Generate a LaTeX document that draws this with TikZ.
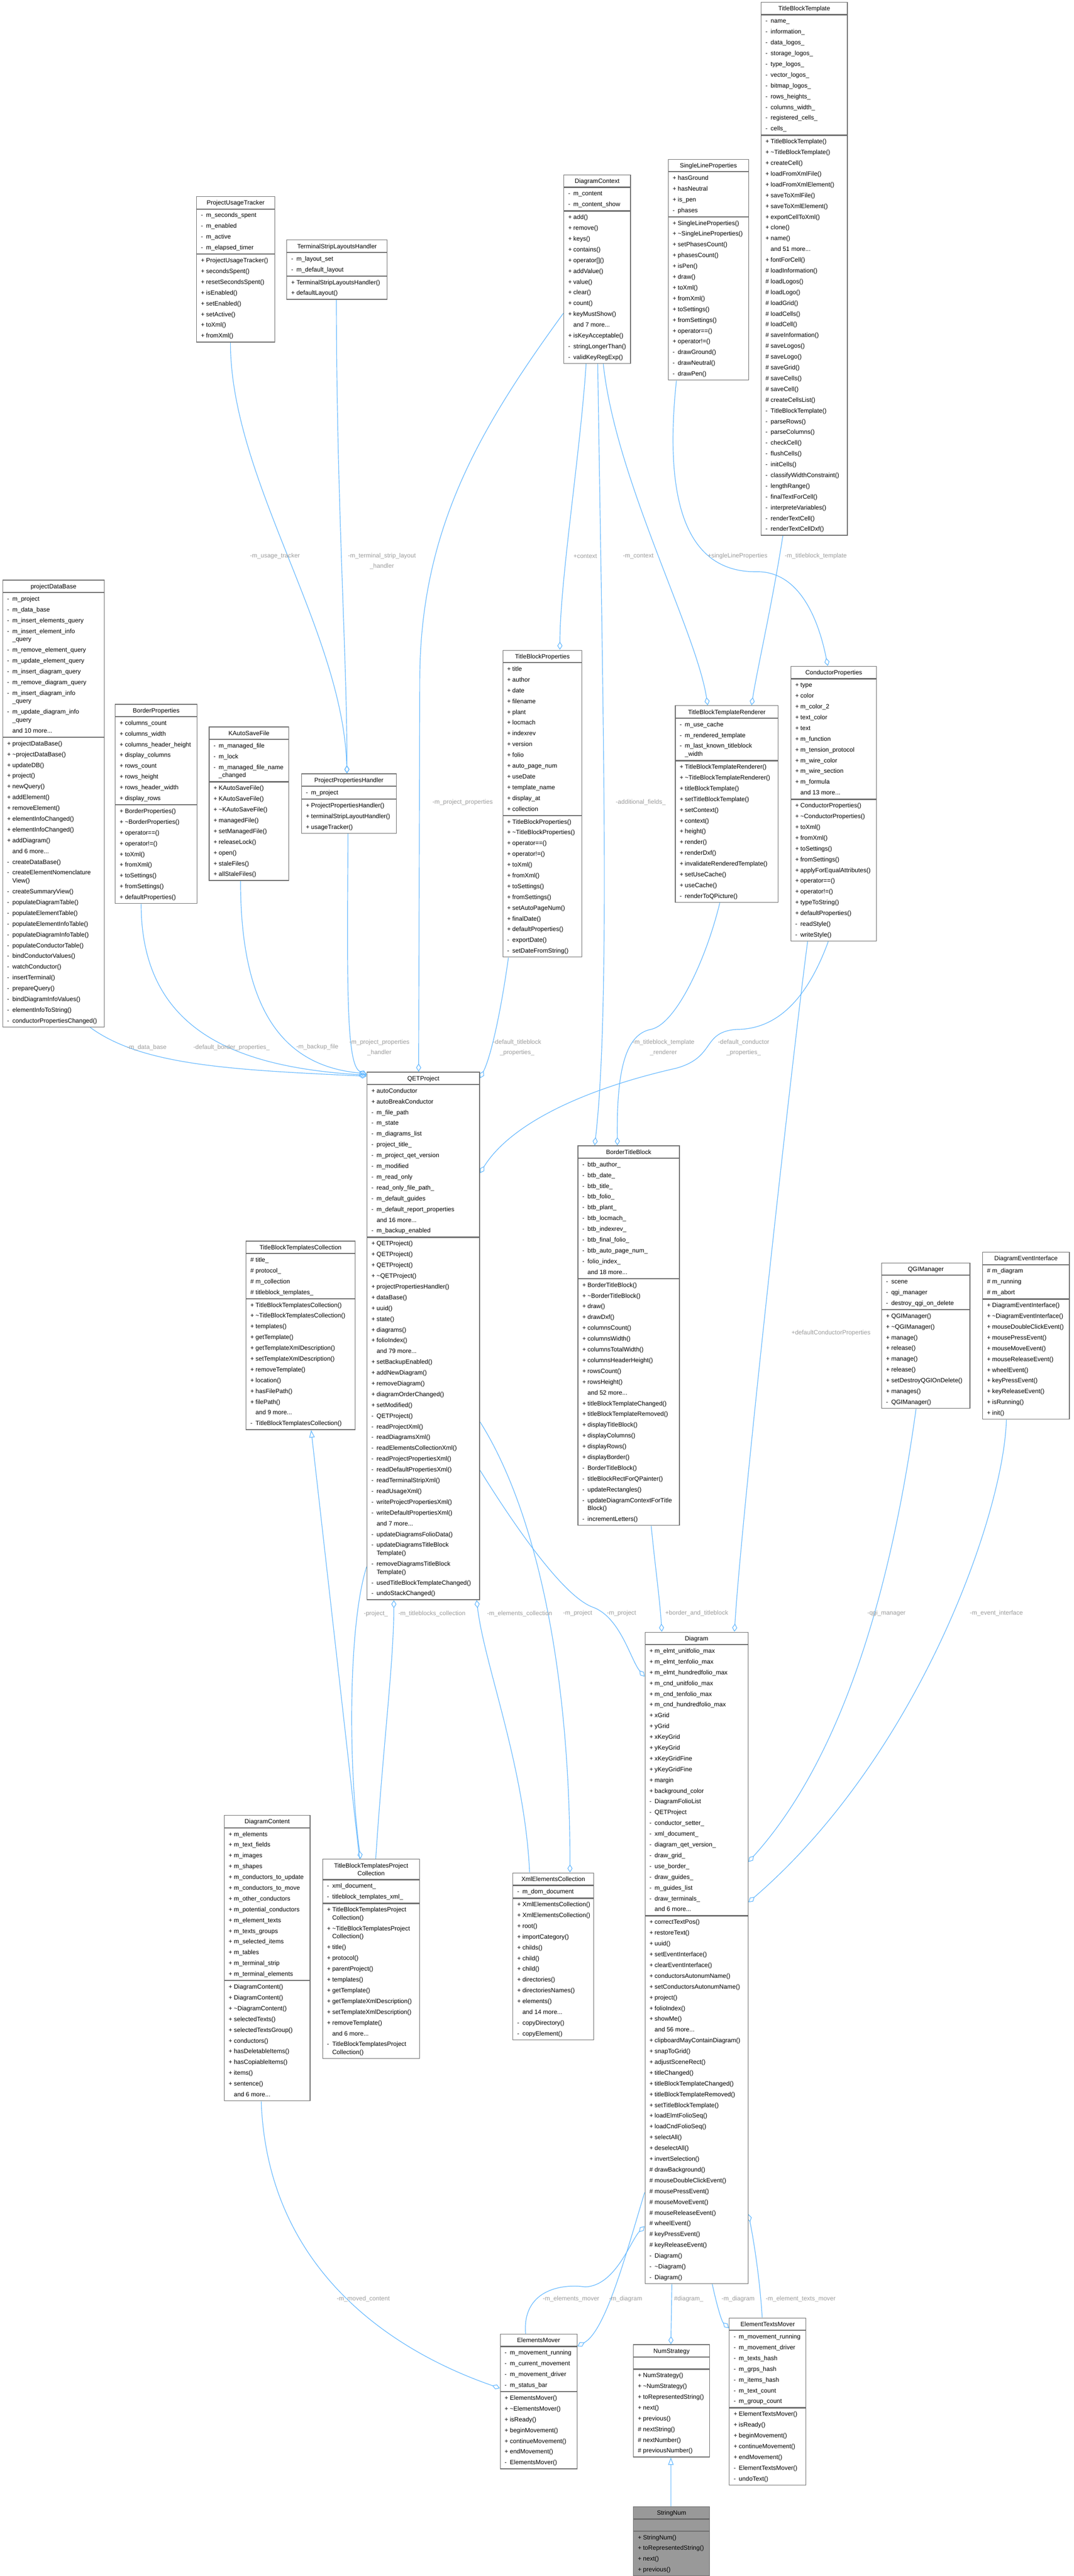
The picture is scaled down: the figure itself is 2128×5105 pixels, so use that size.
\documentclass[tikz,border=0pt]{standalone}
\usepackage{fontspec}
\setmainfont{Liberation Sans}
\usetikzlibrary{arrows.meta,fit,backgrounds}
\definecolor{edgecol}{HTML}{63B8FF}
\definecolor{bordercol}{HTML}{6E6E6E}
\definecolor{lblcol}{HTML}{9C9C9C}
\definecolor{rootfill}{HTML}{999999}
\newlength\pxu \setlength\pxu{0.75pt}
\newcommand\rowstrut{\rule[-5.1pt]{0pt}{16pt}}
\newcommand\tstrut{\rule[-5.6pt]{0pt}{18pt}}
\newcommand\xs[1]{\rowstrut\kern6.5pt\makebox[7.75pt][l]{#1}}
\newcommand\xP{\xs{+}}
\newcommand\xM{\xs{-}}
\newcommand\xH{\xs{\#}}
\newcommand\xN{\xs{}}
\newcommand\cont{\\[-4pt]\xN}
\newcommand\emptysec{\rule{0pt}{14.7pt}}
\newcommand\tld{\textasciitilde}
\tikzset{
 sec/.style={draw=bordercol, line width=0.9pt, inner xsep=0pt, inner ysep=1.1pt, anchor=north west, font=\fontsize{9.2pt}{16pt}\selectfont},
 lbl/.style={text=lblcol, font=\fontsize{9.2pt}{15.75pt}\selectfont, align=center, inner sep=0pt},
 edge/.style={draw=edgecol, line width=0.9pt},
 agg/.style={edge, -{Diamond[open,length=12pt,width=7.5pt]}},
 inh/.style={edge, -{Triangle[open,length=11pt,width=8pt]}},
}
\newcommand\umlbox[8][white]{%
 \node[sec, fill=#1, inner ysep=0pt] (#2-t) at (#3,#4) {\parbox{#5\pxu}{\centering\tstrut #6}};
 \node[sec, fill=#1] (#2-a) at (#2-t.south west) {\parbox{#5\pxu}{\raggedright #7}};
 \node[sec, fill=#1] (#2-m) at (#2-a.south west) {\parbox{#5\pxu}{\raggedright #8}};
 \node[fit=(#2-t)(#2-m), inner sep=0pt] (#2) {};
}
\begin{document}
\catcode`\_=12
\hyphenpenalty=10000 \exhyphenpenalty=10000
\begin{tikzpicture}[x=0.75pt,y=-0.75pt]
\useasboundingbox (0,0) rectangle (2128,5105);

% ---------------- boxes ----------------
\umlbox{TBT}{1508}{4}{171}{TitleBlockTemplate}
{\xM name_ \\ \xM information_ \\ \xM data_logos_ \\ \xM storage_logos_ \\ \xM type_logos_ \\ \xM vector_logos_ \\ \xM bitmap_logos_ \\ \xM rows_heights_ \\ \xM columns_width_ \\ \xM registered_cells_ \\ \xM cells_}
{\xP TitleBlockTemplate() \\ \xP \tld TitleBlockTemplate() \\ \xP createCell() \\ \xP loadFromXmlFile() \\ \xP loadFromXmlElement() \\ \xP saveToXmlFile() \\ \xP saveToXmlElement() \\ \xP exportCellToXml() \\ \xP clone() \\ \xP name() \\ \xN and 51 more... \\ \xP fontForCell() \\ \xH loadInformation() \\ \xH loadLogos() \\ \xH loadLogo() \\ \xH loadGrid() \\ \xH loadCells() \\ \xH loadCell() \\ \xH saveInformation() \\ \xH saveLogos() \\ \xH saveLogo() \\ \xH saveGrid() \\ \xH saveCells() \\ \xH saveCell() \\ \xH createCellsList() \\ \xM TitleBlockTemplate() \\ \xM parseRows() \\ \xM parseColumns() \\ \xM checkCell() \\ \xM flushCells() \\ \xM initCells() \\ \xM classifyWidthConstraint() \\ \xM lengthRange() \\ \xM finalTextForCell() \\ \xM interpreteVariables() \\ \xM renderTextCell() \\ \xM renderTextCellDxf()}

\umlbox{DC}{1117}{346}{132}{DiagramContext}
{\xM m_content \\ \xM m_content_show}
{\xP add() \\ \xP remove() \\ \xP keys() \\ \xP contains() \\ \xP operator[]() \\ \xP addValue() \\ \xP value() \\ \xP clear() \\ \xP count() \\ \xP keyMustShow() \\ \xN and 7 more... \\ \xP isKeyAcceptable() \\ \xM stringLongerThan() \\ \xM validKeyRegExp()}

\umlbox{SLP}{1324}{315}{159}{SingleLineProperties}
{\xP hasGround \\ \xP hasNeutral \\ \xP is_pen \\ \xM phases}
{\xP SingleLineProperties() \\ \xP \tld SingleLineProperties() \\ \xP setPhasesCount() \\ \xP phasesCount() \\ \xP isPen() \\ \xP draw() \\ \xP toXml() \\ \xP fromXml() \\ \xP toSettings() \\ \xP fromSettings() \\ \xP operator==() \\ \xP operator!=() \\ \xM drawGround() \\ \xM drawNeutral() \\ \xM drawPen()}

\umlbox{PUT}{389}{389}{155}{ProjectUsageTracker}
{\xM m_seconds_spent \\ \xM m_enabled \\ \xM m_active \\ \xM m_elapsed_timer}
{\xP ProjectUsageTracker() \\ \xP secondsSpent() \\ \xP resetSecondsSpent() \\ \xP isEnabled() \\ \xP setEnabled() \\ \xP setActive() \\ \xP toXml() \\ \xP fromXml()}

\umlbox{TSLH}{568}{475}{199}{TerminalStripLayoutsHandler}
{\xM m_layout_set \\ \xM m_default_layout}
{\xP TerminalStripLayoutsHandler() \\ \xP defaultLayout()}

\umlbox{PDB}{5}{1149}{201}{projectDataBase}
{\xM m_project \\ \xM m_data_base \\ \xM m_insert_elements_query \\ \xM m_insert_element_info\cont _query \\ \xM m_remove_element_query \\ \xM m_update_element_query \\ \xM m_insert_diagram_query \\ \xM m_remove_diagram_query \\ \xM m_insert_diagram_info\cont _query \\ \xM m_update_diagram_info\cont _query \\ \xN and 10 more...}
{\xP projectDataBase() \\ \xP \tld projectDataBase() \\ \xP updateDB() \\ \xP project() \\ \xP newQuery() \\ \xP addElement() \\ \xP removeElement() \\ \xP elementInfoChanged() \\ \xP elementInfoChanged() \\ \xP addDiagram() \\ \xN and 6 more... \\ \xM createDataBase() \\ \xM createElementNomenclature\cont View() \\ \xM createSummaryView() \\ \xM populateDiagramTable() \\ \xM populateElementTable() \\ \xM populateElementInfoTable() \\ \xM populateDiagramInfoTable() \\ \xM populateConductorTable() \\ \xM bindConductorValues() \\ \xM watchConductor() \\ \xM insertTerminal() \\ \xM prepareQuery() \\ \xM bindDiagramInfoValues() \\ \xM elementInfoToString() \\ \xM conductorPropertiesChanged()}

\umlbox{BP}{228}{1395}{162}{BorderProperties}
{\xP columns_count \\ \xP columns_width \\ \xP columns_header_height \\ \xP display_columns \\ \xP rows_count \\ \xP rows_height \\ \xP rows_header_width \\ \xP display_rows}
{\xP BorderProperties() \\ \xP \tld BorderProperties() \\ \xP operator==() \\ \xP operator!=() \\ \xP toXml() \\ \xP fromXml() \\ \xP toSettings() \\ \xP fromSettings() \\ \xP defaultProperties()}

\umlbox{KASF}{414}{1440}{158}{KAutoSaveFile}
{\xM m_managed_file \\ \xM m_lock \\ \xM m_managed_file_name\cont _changed}
{\xP KAutoSaveFile() \\ \xP KAutoSaveFile() \\ \xP \tld KAutoSaveFile() \\ \xP managedFile() \\ \xP setManagedFile() \\ \xP releaseLock() \\ \xP open() \\ \xP staleFiles() \\ \xP allStaleFiles()}

\umlbox{PPH}{597}{1533}{188}{ProjectPropertiesHandler}
{\xM m_project}
{\xP ProjectPropertiesHandler() \\ \xP terminalStripLayoutHandler() \\ \xP usageTracker()}

\umlbox{TBP}{996}{1288}{157}{TitleBlockProperties}
{\xP title \\ \xP author \\ \xP date \\ \xP filename \\ \xP plant \\ \xP locmach \\ \xP indexrev \\ \xP version \\ \xP folio \\ \xP auto_page_num \\ \xP useDate \\ \xP template_name \\ \xP display_at \\ \xP collection}
{\xP TitleBlockProperties() \\ \xP \tld TitleBlockProperties() \\ \xP operator==() \\ \xP operator!=() \\ \xP toXml() \\ \xP fromXml() \\ \xP toSettings() \\ \xP fromSettings() \\ \xP setAutoPageNum() \\ \xP finalDate() \\ \xP defaultProperties() \\ \xM exportDate() \\ \xM setDateFromString()}

\umlbox{TBTR}{1338}{1398}{204}{TitleBlockTemplateRenderer}
{\xM m_use_cache \\ \xM m_rendered_template \\ \xM m_last_known_titleblock\cont _width}
{\xP TitleBlockTemplateRenderer() \\ \xP \tld TitleBlockTemplateRenderer() \\ \xP titleBlockTemplate() \\ \xP setTitleBlockTemplate() \\ \xP setContext() \\ \xP context() \\ \xP height() \\ \xP render() \\ \xP renderDxf() \\ \xP invalidateRenderedTemplate() \\ \xP setUseCache() \\ \xP useCache() \\ \xM renderToQPicture()}

\umlbox{CP}{1567}{1320}{170}{ConductorProperties}
{\xP type \\ \xP color \\ \xP m_color_2 \\ \xP text_color \\ \xP text \\ \xP m_function \\ \xP m_tension_protocol \\ \xP m_wire_color \\ \xP m_wire_section \\ \xP m_formula \\ \xN and 13 more...}
{\xP ConductorProperties() \\ \xP \tld ConductorProperties() \\ \xP toXml() \\ \xP fromXml() \\ \xP toSettings() \\ \xP fromSettings() \\ \xP applyForEqualAttributes() \\ \xP operator==() \\ \xP operator!=() \\ \xP typeToString() \\ \xP defaultProperties() \\ \xM readStyle() \\ \xM writeStyle()}

\umlbox{QET}{727}{2124}{223}{QETProject}
{\xP autoConductor \\ \xP autoBreakConductor \\ \xM m_file_path \\ \xM m_state \\ \xM m_diagrams_list \\ \xM project_title_ \\ \xM m_project_qet_version \\ \xM m_modified \\ \xM m_read_only \\ \xM read_only_file_path_ \\ \xM m_default_guides \\ \xM m_default_report_properties \\ \xN and 16 more... \\ \xM m_backup_enabled}
{\xP QETProject() \\ \xP QETProject() \\ \xP QETProject() \\ \xP \tld QETProject() \\ \xP projectPropertiesHandler() \\ \xP dataBase() \\ \xP uuid() \\ \xP state() \\ \xP diagrams() \\ \xP folioIndex() \\ \xN and 79 more... \\ \xP setBackupEnabled() \\ \xP addNewDiagram() \\ \xP removeDiagram() \\ \xP diagramOrderChanged() \\ \xP setModified() \\ \xM QETProject() \\ \xM readProjectXml() \\ \xM readDiagramsXml() \\ \xM readElementsCollectionXml() \\ \xM readProjectPropertiesXml() \\ \xM readDefaultPropertiesXml() \\ \xM readTerminalStripXml() \\ \xM readUsageXml() \\ \xM writeProjectPropertiesXml() \\ \xM writeDefaultPropertiesXml() \\ \xN and 7 more... \\ \xM updateDiagramsFolioData() \\ \xM updateDiagramsTitleBlock\cont Template() \\ \xM removeDiagramsTitleBlock\cont Template() \\ \xM usedTitleBlockTemplateChanged() \\ \xM undoStackChanged()}

\umlbox{BTB}{1145}{2270}{201}{BorderTitleBlock}
{\xM btb_author_ \\ \xM btb_date_ \\ \xM btb_title_ \\ \xM btb_folio_ \\ \xM btb_plant_ \\ \xM btb_locmach_ \\ \xM btb_indexrev_ \\ \xM btb_final_folio_ \\ \xM btb_auto_page_num_ \\ \xM folio_index_ \\ \xN and 18 more...}
{\xP BorderTitleBlock() \\ \xP \tld BorderTitleBlock() \\ \xP draw() \\ \xP drawDxf() \\ \xP columnsCount() \\ \xP columnsWidth() \\ \xP columnsTotalWidth() \\ \xP columnsHeaderHeight() \\ \xP rowsCount() \\ \xP rowsHeight() \\ \xN and 52 more... \\ \xP titleBlockTemplateChanged() \\ \xP titleBlockTemplateRemoved() \\ \xP displayTitleBlock() \\ \xP displayColumns() \\ \xP displayRows() \\ \xP displayBorder() \\ \xM BorderTitleBlock() \\ \xM titleBlockRectForQPainter() \\ \xM updateRectangles() \\ \xM updateDiagramContextForTitle\cont Block() \\ \xM incrementLetters()}

\umlbox{TBTC}{487}{2459}{216}{TitleBlockTemplatesCollection}
{\xH title_ \\ \xH protocol_ \\ \xH m_collection \\ \xH titleblock_templates_}
{\xP TitleBlockTemplatesCollection() \\ \xP \tld TitleBlockTemplatesCollection() \\ \xP templates() \\ \xP getTemplate() \\ \xP getTemplateXmlDescription() \\ \xP setTemplateXmlDescription() \\ \xP removeTemplate() \\ \xP location() \\ \xP hasFilePath() \\ \xP filePath() \\ \xN and 9 more... \\ \xM TitleBlockTemplatesCollection()}

\umlbox{QGI}{1747}{2502}{175}{QGIManager}
{\xM scene \\ \xM qgi_manager \\ \xM destroy_qgi_on_delete}
{\xP QGIManager() \\ \xP \tld QGIManager() \\ \xP manage() \\ \xP release() \\ \xP manage() \\ \xP release() \\ \xP setDestroyQGIOnDelete() \\ \xP manages() \\ \xM QGIManager()}

\umlbox{DEI}{1947}{2481}{172}{DiagramEventInterface}
{\xH m_diagram \\ \xH m_running \\ \xH m_abort}
{\xP DiagramEventInterface() \\ \xP \tld DiagramEventInterface() \\ \xP mouseDoubleClickEvent() \\ \xP mousePressEvent() \\ \xP mouseMoveEvent() \\ \xP mouseReleaseEvent() \\ \xP wheelEvent() \\ \xP keyPressEvent() \\ \xP keyReleaseEvent() \\ \xP isRunning() \\ \xP init()}

\umlbox{DIA}{1278}{3234}{204}{Diagram}
{\xP m_elmt_unitfolio_max \\ \xP m_elmt_tenfolio_max \\ \xP m_elmt_hundredfolio_max \\ \xP m_cnd_unitfolio_max \\ \xP m_cnd_tenfolio_max \\ \xP m_cnd_hundredfolio_max \\ \xP xGrid \\ \xP yGrid \\ \xP xKeyGrid \\ \xP yKeyGrid \\ \xP xKeyGridFine \\ \xP yKeyGridFine \\ \xP margin \\ \xP background_color \\ \xM DiagramFolioList \\ \xM QETProject \\ \xM conductor_setter_ \\ \xM xml_document_ \\ \xM diagram_qet_version_ \\ \xM draw_grid_ \\ \xM use_border_ \\ \xM draw_guides_ \\ \xM m_guides_list \\ \xM draw_terminals_ \\ \xN and 6 more...}
{\xP correctTextPos() \\ \xP restoreText() \\ \xP uuid() \\ \xP setEventInterface() \\ \xP clearEventInterface() \\ \xP conductorsAutonumName() \\ \xP setConductorsAutonumName() \\ \xP project() \\ \xP folioIndex() \\ \xP showMe() \\ \xN and 56 more... \\ \xP clipboardMayContainDiagram() \\ \xP snapToGrid() \\ \xP adjustSceneRect() \\ \xP titleChanged() \\ \xP titleBlockTemplateChanged() \\ \xP titleBlockTemplateRemoved() \\ \xP setTitleBlockTemplate() \\ \xP loadElmtFolioSeq() \\ \xP loadCndFolioSeq() \\ \xP selectAll() \\ \xP deselectAll() \\ \xP invertSelection() \\ \xH drawBackground() \\ \xH mouseDoubleClickEvent() \\ \xH mousePressEvent() \\ \xH mouseMoveEvent() \\ \xH mouseReleaseEvent() \\ \xH wheelEvent() \\ \xH keyPressEvent() \\ \xH keyReleaseEvent() \\ \xM Diagram() \\ \xM \tld Diagram() \\ \xM Diagram()}

\umlbox{DCT}{444}{3597}{170}{DiagramContent}
{\xP m_elements \\ \xP m_text_fields \\ \xP m_images \\ \xP m_shapes \\ \xP m_conductors_to_update \\ \xP m_conductors_to_move \\ \xP m_other_conductors \\ \xP m_potential_conductors \\ \xP m_element_texts \\ \xP m_texts_groups \\ \xP m_selected_items \\ \xP m_tables \\ \xP m_terminal_strip \\ \xP m_terminal_elements}
{\xP DiagramContent() \\ \xP DiagramContent() \\ \xP \tld DiagramContent() \\ \xP selectedTexts() \\ \xP selectedTextsGroup() \\ \xP conductors() \\ \xP hasDeletableItems() \\ \xP hasCopiableItems() \\ \xP items() \\ \xP sentence() \\ \xN and 6 more...}

\umlbox{TBTPC}{639}{3684}{192}{TitleBlockTemplatesProject\\[-4pt]Collection\rule[-5.6pt]{0pt}{5.6pt}}
{\xM xml_document_ \\ \xM titleblock_templates_xml_}
{\xP TitleBlockTemplatesProject\cont Collection() \\ \xP \tld TitleBlockTemplatesProject\cont Collection() \\ \xP title() \\ \xP protocol() \\ \xP parentProject() \\ \xP templates() \\ \xP getTemplate() \\ \xP getTemplateXmlDescription() \\ \xP setTemplateXmlDescription() \\ \xP removeTemplate() \\ \xN and 6 more... \\ \xM TitleBlockTemplatesProject\cont Collection()}

\umlbox{XEC}{1016}{3711}{160}{XmlElementsCollection}
{\xM m_dom_document}
{\xP XmlElementsCollection() \\ \xP XmlElementsCollection() \\ \xP root() \\ \xP importCategory() \\ \xP childs() \\ \xP child() \\ \xP child() \\ \xP directories() \\ \xP directoriesNames() \\ \xP elements() \\ \xN and 14 more... \\ \xM copyDirectory() \\ \xM copyElement()}

\umlbox{EM}{991}{4625}{152}{ElementsMover}
{\xM m_movement_running \\ \xM m_current_movement \\ \xM m_movement_driver \\ \xM m_status_bar}
{\xP ElementsMover() \\ \xP \tld ElementsMover() \\ \xP isReady() \\ \xP beginMovement() \\ \xP continueMovement() \\ \xP endMovement() \\ \xM ElementsMover()}

\umlbox{NS}{1255}{4646}{151}{NumStrategy}
{\emptysec}
{\xP NumStrategy() \\ \xP \tld NumStrategy() \\ \xP toRepresentedString() \\ \xP next() \\ \xP previous() \\ \xH nextString() \\ \xH nextNumber() \\ \xH previousNumber()}

\umlbox{ETM}{1445}{4593}{152}{ElementTextsMover}
{\xM m_movement_running \\ \xM m_movement_driver \\ \xM m_texts_hash \\ \xM m_grps_hash \\ \xM m_items_hash \\ \xM m_text_count \\ \xM m_group_count}
{\xP ElementTextsMover() \\ \xP isReady() \\ \xP beginMovement() \\ \xP continueMovement() \\ \xP endMovement() \\ \xM ElementTextsMover() \\ \xM undoText()}

\umlbox[rootfill]{SN}{1255}{4967}{151}{StringNum}
{\emptysec}
{\xP StringNum() \\ \xP toRepresentedString() \\ \xP next() \\ \xP previous()}

% ---------------- labels ----------------
\node[lbl] (lb1) at (545,1102) {-m_usage_tracker};
\node[lbl] (lb2) at (757,1112) {-m_terminal_strip_layout\\_handler};
\node[lbl] (lb3) at (1160,1102) {+context};
\node[lbl] (lb4) at (1265,1102) {-m_context};
\node[lbl] (lb5) at (1462,1102) {+singleLineProperties};
\node[lbl] (lb6) at (1617,1102) {-m_titleblock_template};
\node[lbl] (lb7) at (917,1590) {-m_project_properties};
\node[lbl] (lb8) at (1270,1590) {-additional_fields_};
\node[lbl] (lb9) at (291,2076) {-m_data_base};
\node[lbl] (lb10) at (459,2076) {-default_border_properties_};
\node[lbl] (lb11) at (629,2075) {-m_backup_file};
\node[lbl] (lb12) at (752,2076) {-m_project_properties\\_handler};
\node[lbl] (lb13) at (1025,2076) {-default_titleblock\\_properties_};
\node[lbl] (lb14) at (1315,2076) {-m_titleblock_template\\_renderer};
\node[lbl] (lb15) at (1474,2076) {-default_conductor\\_properties_};
\node[lbl] (lb16) at (1647,2642) {+defaultConductorProperties};
\node[lbl] (lb17) at (745,3198) {-project_};
\node[lbl] (lb18) at (856,3198) {-m_titleblocks_collection};
\node[lbl] (lb19) at (1030,3198) {-m_elements_collection};
\node[lbl] (lb20) at (1145,3197) {-m_project};
\node[lbl] (lb21) at (1232,3197) {-m_project};
\node[lbl] (lb22) at (1381,3197) {+border_and_titleblock};
\node[lbl] (lb23) at (1757,3197) {-qgi_manager};
\node[lbl] (lb24) at (1975,3197) {-m_event_interface};
\node[lbl] (lb25) at (720,4556) {-m_moved_content};
\node[lbl] (lb26) at (1132,4556) {-m_elements_mover};
\node[lbl] (lb27) at (1240,4556) {-m_diagram};
\node[lbl] (lb28) at (1365,4556) {\#diagram_};
\node[lbl] (lb29) at (1463,4556) {-m_diagram};
\node[lbl] (lb30) at (1587,4556) {-m_element_texts_mover};

% ---------------- edges ----------------
\begin{scope}[on background layer]
\fill[white] (0,0) rectangle (2128,5105);
\draw[agg] ([shift={(68,0)}]PUT.south west) .. controls (457,950) and (680,1250) .. ([shift={(91,0)}]PPH.north west);
\draw[agg] ([shift={(99,0)}]TSLH.south west) .. controls (667,1000) and (688,1300) .. ([shift={(91,0)}]PPH.north west);
\draw[agg] ([shift={(93,0)}]PPH.south west) .. controls (688,1950) and (686,2110) .. ([shift={(0,6)}]QET.north west);
\draw[agg] ([shift={(63,0)}]KASF.south west) .. controls (477,2000) and (560,2112) .. ([shift={(0,4)}]QET.north west);
\draw[agg] ([shift={(52,0)}]BP.south west) .. controls (280,2050) and (480,2115) .. ([shift={(0,7)}]QET.north west);
\draw[agg] ([shift={(174,0)}]PDB.south west) .. controls (280,2110) and (450,2120) .. ([shift={(0,9)}]QET.north west);
\draw[agg] ([shift={(0,275)}]DC.north west) .. controls (950,850) and (832,1050) .. (832,1350) -- ([shift={(103,0)}]QET.north west);
\draw[agg] ([shift={(45,0)}]DC.south west) .. controls (1150,900) and (1110,1150) .. ([shift={(114,0)}]TBP.north west);
\draw[agg] ([shift={(68,0)}]DC.south west) .. controls (1195,1400) and (1210,2000) .. ([shift={(34,0)}]BTB.north west);
\draw[agg] ([shift={(89,0)}]TBTR.south west) .. controls (1400,1900) and (1340,2030) .. (1290,2040) .. controls (1240,2050) and (1222,2120) .. ([shift={(79,0)}]BTB.north west);
\draw[agg] ([shift={(79,0)}]DC.south west) .. controls (1220,950) and (1380,1250) .. ([shift={(65,0)}]TBTR.north west);
\draw[agg] ([shift={(44,0)}]TBT.south west) .. controls (1530,1200) and (1500,1330) .. ([shift={(152,0)}]TBTR.north west);
\draw[agg] ([shift={(17,0)}]SLP.south west) .. controls (1320,950) and (1340,1135) .. (1500,1133) .. controls (1590,1132) and (1625,1240) .. ([shift={(74,0)}]CP.north west);
\draw[agg] ([shift={(34,0)}]CP.south west) .. controls (1570,2100) and (1470,3000) .. ([shift={(178,0)}]DIA.north west);
\draw[agg] ([shift={(75,0)}]CP.south west) .. controls (1600,1980) and (1540,2040) .. (1460,2040) .. controls (1390,2045) and (1420,2095) .. (1340,2117) .. controls (1150,2160) and (1010,2230) .. ([shift={(0,201)}]QET.north east);
\draw[agg] ([shift={(12,0)}]TBP.south west) .. controls (995,1990) and (975,2090) .. ([shift={(0,13)}]QET.north east);
\draw[agg] ([shift={(146,0)}]BTB.south west) .. controls (1298,3100) and (1308,3170) .. ([shift={(34,0)}]DIA.north west);
\draw[agg] ([shift={(0,790)}]QET.north east) .. controls (1030,3040) and (1120,3165) .. (1175,3185) .. controls (1230,3205) and (1250,3290) .. ([shift={(0,89)}]DIA.north west);
\draw[agg] ([shift={(0,694)}]QET.north east) .. controls (1060,2990) and (1130,3300) .. ([shift={(114,0)}]XEC.north west);
\draw[agg] ([shift={(34,0)}]XEC.north west) .. controls (1040,3500) and (960,3300) .. ([shift={(218,0)}]QET.south west);
\draw[agg] ([shift={(106,0)}]TBTPC.north west) .. controls (760,3450) and (780,3300) .. ([shift={(54,0)}]QET.south west);
\draw[agg] ([shift={(0,981)}]QET.north west) .. controls (690,3220) and (690,3500) .. ([shift={(76,0)}]TBTPC.north west);
\draw[inh] ([shift={(74,0)}]TBTPC.north west) -- ([shift={(130,0)}]TBTC.south west);
\draw[agg] ([shift={(69,0)}]QGI.south west) .. controls (1780,3050) and (1700,3450) .. ([shift={(0,456)}]DIA.north east);
\draw[agg] ([shift={(48,0)}]DEI.south west) .. controls (1990,3000) and (1820,3480) .. ([shift={(0,536)}]DIA.north east);
\draw[agg] ([shift={(74,0)}]DCT.south west) .. controls (530,4500) and (780,4660) .. ([shift={(0,108)}]EM.north west);
\draw[agg] ([shift={(51,0)}]EM.north west) .. controls (1035,4540) and (1110,4525) .. (1160,4532) .. controls (1220,4530) and (1250,4440) .. ([shift={(0,1178)}]DIA.north west);
\draw[agg] ([shift={(0,1111)}]DIA.north west) .. controls (1240,4470) and (1200,4620) .. ([shift={(0,25)}]EM.north east);
\draw[agg] ([shift={(54,0)}]DIA.south west) -- ([shift={(75,0)}]NS.north west);
\draw[agg] ([shift={(134,0)}]DIA.south west) .. controls (1420,4565) and (1430,4600) .. ([shift={(0,21)}]ETM.north west);
\draw[agg] ([shift={(66,0)}]ETM.north west) .. controls (1505,4500) and (1490,4420) .. ([shift={(0,1154)}]DIA.north east);
\draw[inh] ([shift={(75,0)}]SN.north west) -- ([shift={(75,0)}]NS.south west);
\end{scope}
\end{tikzpicture}
\end{document}
